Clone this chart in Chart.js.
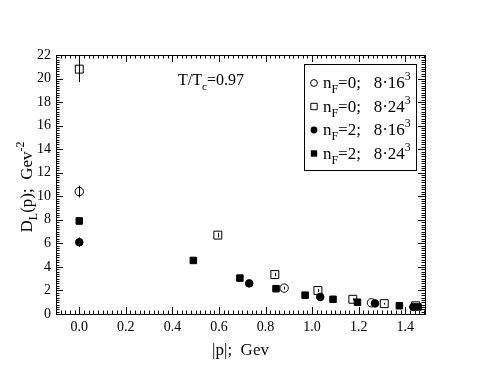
<!DOCTYPE html>
<html>
<head>
<meta charset="utf-8">
<script src="https://cdn.jsdelivr.net/npm/chart.js@4/dist/chart.umd.min.js"></script>
<style>
  body { margin: 0; background: #fff; }
  #wrap { width: 480px; height: 371px; }
</style>
</head>
<body>
<div id="wrap"><canvas id="chart" width="480" height="371"></canvas></div>
<script>
// nF=0; 8*16^3 (open circles)
const pOpenCircle = [0, 0.88, 1.255]
const dOpenCircle = [10.4, 2.2, 0.95]
const eOpenCircle = [0.5, 0.12, 0.08]

// nF=0; 8*24^3 (open squares)
const pOpenSquare = [0, 0.595, 0.84, 1.025, 1.175, 1.31, 1.445]
const dOpenSquare = [20.8, 6.7, 3.35, 2.0, 1.25, 0.88, 0.7]
const eOpenSquare = [1.1, 0.2, 0.15, 0.12, 0.1, 0.08, 0.06]

// nF=2; 8*16^3 (filled circles)
const pFilledCircle = [0, 0.73, 1.035, 1.27, 1.435]
const dFilledCircle = [6.1, 2.6, 1.45, 0.9, 0.6]
const eFilledCircle = [0.4, 0.1, 0.08, 0.06, 0.05]

// nF=2; 8*24^3 (filled squares)
const pFilledSquare = [0, 0.49, 0.69, 0.845, 0.97, 1.09, 1.195, 1.375, 1.455]
const dFilledSquare = [7.9, 4.55, 3.05, 2.15, 1.6, 1.25, 1.0, 0.7, 0.6]
const eFilledSquare = [0.3, 0.1, 0.08, 0.07, 0.06, 0.05, 0.05, 0.04, 0.04]

const xTicks = [0, 0.2, 0.4, 0.6, 0.8, 1.0, 1.2, 1.4]
const yTicks = [0, 2, 4, 6, 8, 10, 12, 14, 16, 18, 20, 22]

const legendLabels = [
  [["n", 0], ["F", 1], ["=0;   8\u00b716", 0], ["3", 2]],
  [["n", 0], ["F", 1], ["=0;   8\u00b724", 0], ["3", 2]],
  [["n", 0], ["F", 1], ["=2;   8\u00b716", 0], ["3", 2]],
  [["n", 0], ["F", 1], ["=2;   8\u00b724", 0], ["3", 2]]
]

const FONT = "Liberation Serif, Times New Roman, Tinos, serif"

const toPts = (xs, ys) => xs.map((x, i) => ({x: x, y: ys[i]}))

// text with subscript (1) and superscript (2) parts
function richWidth(ctx, parts, size) {
  let w = 0
  parts.forEach(([t, k]) => {
    ctx.font = (k ? size * 0.7 : size) + "px " + FONT
    w += ctx.measureText(t).width
  })
  return w
}
function drawRich(ctx, parts, x, y, size) {
  parts.forEach(([t, k]) => {
    ctx.font = (k ? size * 0.7 : size) + "px " + FONT
    let dy = 0
    if (k === 1) dy = size * 0.32
    if (k === 2) dy = -size * 0.45
    ctx.fillText(t, x, y + dy)
    x += ctx.measureText(t).width
  })
}

function marker(ctx, style, x, y, r, filled) {
  ctx.beginPath()
  if (style === "circle") ctx.arc(x, y, r, 0, Math.PI * 2)
  else ctx.rect(x - r, y - r, 2 * r, 2 * r)
  if (filled) ctx.fill()
  else ctx.stroke()
}

const errors = [eOpenCircle, eOpenSquare, eFilledCircle, eFilledSquare]

const decorPlugin = {
  id: "decor",
  afterDatasetsDraw(chart) {
    const ctx = chart.ctx
    const a = chart.chartArea
    const xs = chart.scales.x
    const ys = chart.scales.y
    ctx.save()
    ctx.strokeStyle = "#000"
    ctx.fillStyle = "#000"
    ctx.lineWidth = 1

    // error bars
    chart.data.datasets.forEach((ds, di) => {
      const meta = chart.getDatasetMeta(di)
      meta.data.forEach((pt, i) => {
        const e = errors[di][i]
        const v = ds.data[i].y
        const y1 = ys.getPixelForValue(v - e)
        const y2 = ys.getPixelForValue(v + e)
        ctx.beginPath()
        ctx.moveTo(Math.round(pt.x) + 0.5, y1)
        ctx.lineTo(Math.round(pt.x) + 0.5, y2)
        ctx.stroke()
      })
    })

    // frame
    ctx.strokeRect(a.left + 0.5, a.top + 0.5, a.right - a.left, a.bottom - a.top)

    // inward ticks on all sides
    ctx.beginPath()
    for (let k = -5; k <= 75; k++) {
      const v = k * 0.02
      if (v < xs.min || v > xs.max) continue
      const px = Math.round(xs.getPixelForValue(v)) + 0.5
      const len = k % 10 === 0 ? 7 : 3.5
      ctx.moveTo(px, a.bottom); ctx.lineTo(px, a.bottom - len)
      ctx.moveTo(px, a.top); ctx.lineTo(px, a.top + len)
    }
    for (let k = 0; k <= 110; k++) {
      const v = k * 0.2
      const py = Math.round(ys.getPixelForValue(v)) + 0.5
      const len = k % 10 === 0 ? 7 : 3.5
      ctx.moveTo(a.left, py); ctx.lineTo(a.left + len, py)
      ctx.moveTo(a.right, py); ctx.lineTo(a.right - len, py)
    }
    ctx.stroke()

    // annotation
    ctx.textBaseline = "alphabetic"
    drawRich(ctx, [["T/T", 0], ["c", 1], ["=0.97", 0]], 178, 85, 16)

    // legend box
    ctx.fillStyle = "#fff"
    ctx.fillRect(304.5, 64.5, 112, 106)
    ctx.fillStyle = "#000"
    ctx.strokeRect(304.5, 64.5, 112, 106)
    const styles = [["circle", false], ["rect", false], ["circle", true], ["rect", true]]
    legendLabels.forEach((parts, i) => {
      const cy = 83 + i * 23.5
      marker(ctx, styles[i][0], 314, cy, styles[i][0] === "circle" ? 3.4 : 3.2, styles[i][1])
      drawRich(ctx, parts, 323, cy + 5, 17)
    })

    // y-axis title
    ctx.save()
    ctx.translate(32, 187)
    ctx.rotate(-Math.PI / 2)
    const yParts = [["D", 0], ["L", 1], ["(p);  Gev", 0], ["-2", 2]]
    const w = richWidth(ctx, yParts, 17)
    drawRich(ctx, yParts, -w / 2, 0, 17)
    ctx.restore()

    ctx.restore()
  }
}

new Chart(document.getElementById("chart"), {
  type: "scatter",
  data: {
    datasets: [
      {
        label: "nF=0; 8.16^3",
        data: toPts(pOpenCircle, dOpenCircle),
        pointStyle: "circle", pointRadius: 4.2,
        borderColor: "#000", backgroundColor: "rgba(0,0,0,0)", borderWidth: 1
      },
      {
        label: "nF=0; 8.24^3",
        data: toPts(pOpenSquare, dOpenSquare),
        pointStyle: "rect", pointRadius: 5.6,
        borderColor: "#000", backgroundColor: "rgba(0,0,0,0)", borderWidth: 1
      },
      {
        label: "nF=2; 8.16^3",
        data: toPts(pFilledCircle, dFilledCircle),
        pointStyle: "circle", pointRadius: 3.8,
        borderColor: "#000", backgroundColor: "#000", borderWidth: 1
      },
      {
        label: "nF=2; 8.24^3",
        data: toPts(pFilledSquare, dFilledSquare),
        pointStyle: "rect", pointRadius: 4.6,
        borderColor: "#000", backgroundColor: "#000", borderWidth: 1
      }
    ]
  },
  options: {
    responsive: false,
    animation: false,
    layout: { padding: { top: 55, right: 55, left: 0, bottom: 0 } },
    plugins: {
      legend: { display: false },
      tooltip: { enabled: false }
    },
    scales: {
      x: {
        type: "linear",
        min: -0.1,
        max: 1.485,
        afterFit: s => { s.height = 57 },
        afterBuildTicks: s => { s.ticks = xTicks.map(v => ({value: v})) },
        grid: { display: false, drawTicks: false },
        border: { display: false },
        ticks: {
          color: "#000",
          padding: 5,
          font: { family: FONT, size: 14 },
          callback: v => Number(v).toFixed(1)
        },
        title: {
          display: true,
          text: "|p|;  Gev",
          color: "#000",
          font: { family: FONT, size: 17 },
          padding: { bottom: 10, top: 0 }
        }
      },
      y: {
        type: "linear",
        min: 0,
        max: 22,
        afterFit: s => { s.width = 56 },
        afterBuildTicks: s => { s.ticks = yTicks.map(v => ({value: v})) },
        grid: { display: false, drawTicks: false },
        border: { display: false },
        ticks: {
          color: "#000",
          padding: 5,
          font: { family: FONT, size: 14 }
        }
      }
    }
  },
  plugins: [decorPlugin]
})
</script>
</body>
</html>
